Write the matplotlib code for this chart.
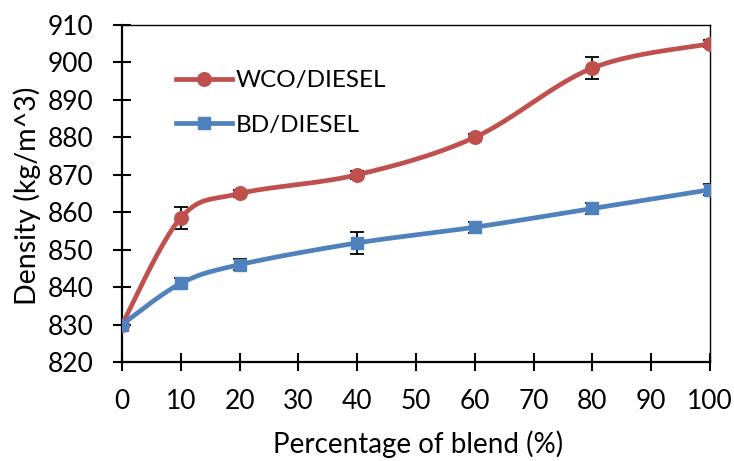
import numpy as np
import matplotlib
matplotlib.use("Agg")
import matplotlib.pyplot as plt
from matplotlib.lines import Line2D

plt.rcParams['font.family'] = ['Lato', 'DejaVu Sans']

blend = [0, 10, 20, 40, 60, 80, 100]
wco = [830, 858.5, 865, 870, 880, 898.5, 905]
wco_err = [0, 3, 1, 1, 1, 3, 1]
bd = [830, 841, 846, 851.8, 856, 861, 866]
bd_err = [0, 1.5, 1.5, 3, 1.5, 1.5, 1.5]
xticks = list(range(0, 101, 10))
yticks = list(range(820, 911, 10))

RED = '#C0504D'
BLUE = '#4F81BD'


def smooth(xs, ys, n=40):
    P = np.column_stack([xs, ys]).astype(float)
    ext = np.vstack([P[0], P, P[-1]])
    out = []
    t = np.linspace(0, 1, n)[:, None]
    for i in range(len(P) - 1):
        p0, p1, p2, p3 = ext[i], ext[i + 1], ext[i + 2], ext[i + 3]
        b1 = p1 + (p2 - p0) / 6.0
        b2 = p2 - (p3 - p1) / 6.0
        seg = ((1 - t) ** 3) * p1 + 3 * ((1 - t) ** 2) * t * b1 + 3 * (1 - t) * t ** 2 * b2 + t ** 3 * p2
        out.append(seg if i == 0 else seg[1:])
    arr = np.vstack(out)
    return arr[:, 0], arr[:, 1]


fig = plt.figure(figsize=(7.34, 4.61), dpi=100)
ax = fig.add_axes([122 / 734, 1 - 362 / 461, (710 - 122) / 734, (362 - 25) / 461])

for ys, err, col, mk, ms in [(wco, wco_err, RED, 'o', 9.8), (bd, bd_err, BLUE, 's', 9.2)]:
    sx, sy = smooth(blend, ys)
    ax.plot(sx, sy, color=col, lw=3.4, solid_capstyle='round', zorder=3)
    ax.errorbar(blend, ys, yerr=err, fmt='none', ecolor='black', elinewidth=1.3,
                capsize=5, capthick=1.3, zorder=2)
    ax.plot(blend, ys, linestyle='none', marker=mk, color=col, markersize=ms, zorder=4)

ax.set_xlim(0, 100)
ax.set_ylim(820, 910)
ax.set_xticks(xticks)
ax.set_yticks(yticks)
ax.tick_params(axis='both', direction='inout', length=13, width=1.5, labelsize=19,
               top=False, right=False)
ax.tick_params(axis='y', pad=14)
ax.tick_params(axis='x', pad=13)
for s in ['left', 'bottom']:
    ax.spines[s].set_linewidth(1.6)
for s in ['top', 'right']:
    ax.spines[s].set_linewidth(1.0)

handles = [Line2D([], [], color=RED, lw=3.4, marker='o', markersize=9.8),
           Line2D([], [], color=BLUE, lw=3.4, marker='s', markersize=9.2)]
ax.legend(handles, ['WCO/DIESEL', 'BD/DIESEL'], loc='upper left',
          bbox_to_anchor=(0.055, 0.93), frameon=False, fontsize=17.5,
          handlelength=2.3, handletextpad=0.15, labelspacing=0.95)

fig.text(27 / 734, 1 - 196 / 461, 'Density (kg/m^3)', rotation=90, ha='center',
         va='center', fontsize=20.5)
fig.text(418 / 734, 1 - 444 / 461, 'Percentage of blend (%)', ha='center',
         va='center', fontsize=20)

fig.savefig('out.png', dpi=100)
